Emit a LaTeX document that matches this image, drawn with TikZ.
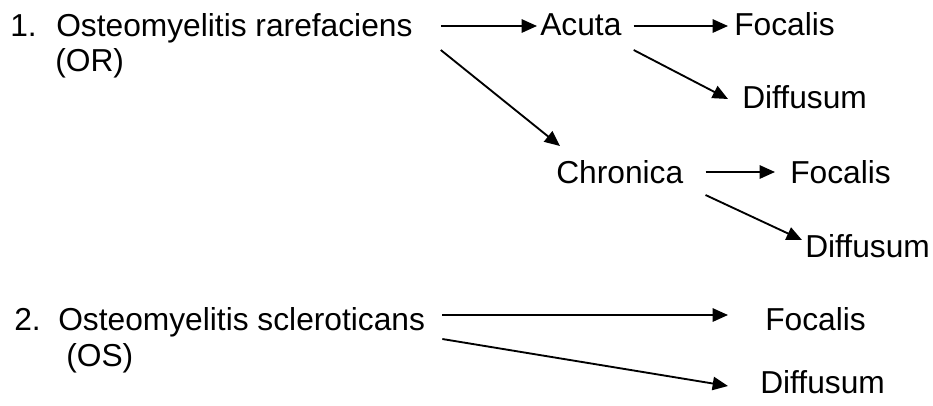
\documentclass[tikz,border=0pt]{standalone}
\usepackage{fontspec}
\setmainfont{Liberation Sans}
\usetikzlibrary{arrows.meta}

\begin{document}
\begin{tikzpicture}[x=0.75pt,y=0.75pt,yscale=-1,xscale=1,
  txt/.style={anchor=base west,inner sep=0pt,font=\fontsize{23.8}{28}\selectfont},
  arr/.style={line width=1.4pt,-{Triangle[length=11.5pt,width=10pt]}}]
%set diagram left start at 0, and has height of 405
\useasboundingbox (0,0) rectangle (933,405);

% Text Node
\node [txt] (num1) at (10,36) {1.};
\node [txt] (or) at (56,36) {Osteomyelitis rarefaciens};
\node [txt] (orabbr) at (55,71) {(OR)};
\node [txt] (acuta) at (540,35) {Acuta};
\node [txt] (focalisA) at (734,35) {Focalis};
\node [txt] (diffusumA) at (742,108) {Diffusum};
\node [txt] (chronica) at (556,183) {Chronica};
\node [txt] (focalisC) at (790,183) {Focalis};
\node [txt] (diffusumC) at (805,257) {Diffusum};
% Text Node
\node [txt] (num2) at (14,330) {2.};
\node [txt] (os) at (58,330) {Osteomyelitis scleroticans};
\node [txt] (osabbr) at (66,366) {(OS)};
\node [txt] (focalisS) at (765,330) {Focalis};
\node [txt] (diffusumS) at (760,393) {Diffusum};

%Straight Lines
\draw [arr] ([shift={(28,-10)}]or.base east) -- ([shift={(-3,-9)}]acuta.base west);
\draw [arr] ([shift={(28,14)}]or.base east) -- ([shift={(4,-37)}]chronica.base west);
%Straight Lines
\draw [arr] ([shift={(12,-9)}]acuta.base east) -- ([shift={(-6,-9)}]focalisA.base west);
\draw [arr] ([shift={(12,15)}]acuta.base east) -- ([shift={(-14,-9)}]diffusumA.base west);
%Straight Lines
\draw [arr] ([shift={(22,-11)}]chronica.base east) -- ([shift={(-15,-11)}]focalisC.base west);
\draw [arr] ([shift={(22,12)}]chronica.base east) -- ([shift={(-3,-17)}]diffusumC.base west);
%Straight Lines
\draw [arr] ([shift={(17,-15)}]os.base east) -- ([shift={(-37,-15)}]focalisS.base west);
\draw [arr] ([shift={(17,9)}]os.base east) -- ([shift={(-32,-7)}]diffusumS.base west);

\end{tikzpicture}
\end{document}
